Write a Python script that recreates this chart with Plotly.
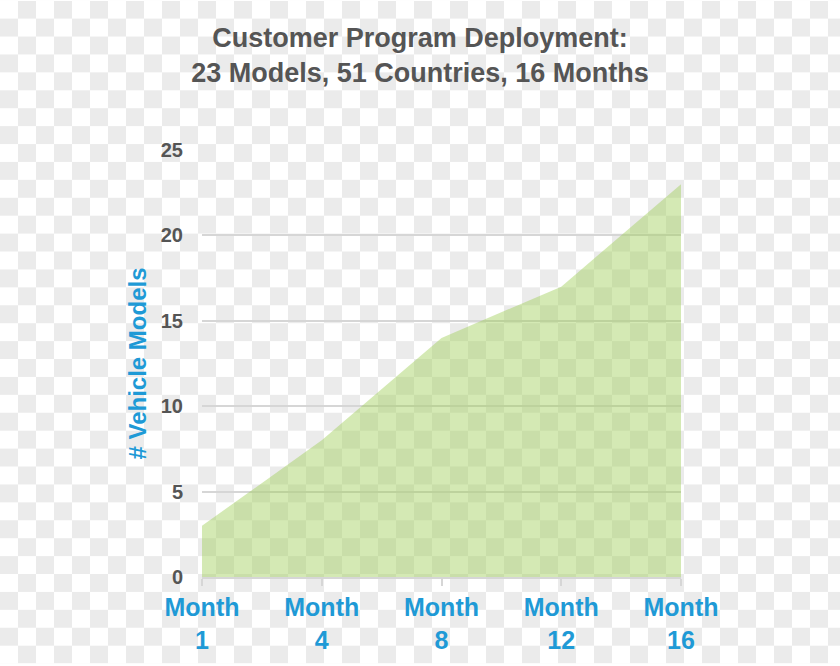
import base64
import plotly.graph_objects as go

categories = ["Month<br>1", "Month<br>4", "Month<br>8", "Month<br>12", "Month<br>16"]
models = [3, 8, 14, 17, 23]
y_ticks = [0, 5, 10, 15, 20, 25]

W, H = 840, 666
L, R, T, B = 202, 159, 150, 87
pw = W - L - R
ph = H - T - B

FONT = "Liberation Sans, Arial, sans-serif"

# transparency checkerboard background
sq = 18
svg = (
    f'<svg xmlns="http://www.w3.org/2000/svg" width="{W}" height="{H}">'
    f'<defs><pattern id="p" width="{2*sq}" height="{2*sq}" patternUnits="userSpaceOnUse">'
    f'<rect width="{2*sq}" height="{2*sq}" fill="#ffffff"/>'
    f'<rect x="{sq}" y="0" width="{sq}" height="{sq}" fill="#ebebeb"/>'
    f'<rect x="0" y="{sq}" width="{sq}" height="{sq}" fill="#ebebeb"/>'
    f'</pattern></defs><rect width="{W}" height="{H}" fill="url(#p)"/></svg>'
)
src = "data:image/svg+xml;base64," + base64.b64encode(svg.encode()).decode()

fig = go.Figure()
fig.add_trace(go.Scatter(
    x=categories, y=models, mode="lines", fill="tozeroy",
    line=dict(width=0, color="rgba(159,206,88,0.45)"),
    fillcolor="rgba(159,206,88,0.45)", hoverinfo="skip", showlegend=False,
))

fig.add_layout_image(dict(
    source=src, xref="paper", yref="paper",
    x=-L / pw, y=1 + T / ph, sizex=W / pw, sizey=H / ph,
    xanchor="left", yanchor="top", sizing="stretch", layer="below",
))

fig.update_layout(
    width=W, height=H,
    margin=dict(l=L, r=R, t=T, b=B),
    paper_bgcolor="rgba(0,0,0,0)", plot_bgcolor="rgba(0,0,0,0)",
    font=dict(family=FONT),
    title=dict(
        text="Customer Program Deployment:<br>23 Models, 51 Countries, 16 Months",
        x=0.5, xref="container", xanchor="center",
        y=1 - 47 / H, yref="container", yanchor="top",
        font=dict(size=27, color="#555555", weight="bold", family=FONT),
    ),
    xaxis=dict(
        type="category", range=[0, len(categories) - 1],
        showgrid=False, zeroline=False,
        showline=True, linecolor="#d6d6d6", linewidth=2,
        ticks="outside", ticklen=7, tickcolor="#d6d6d6", tickwidth=2,
        tickfont=dict(size=25, color="#1f9ad6", weight="bold", family=FONT),
    ),
    yaxis=dict(
        range=[0, 25], tickvals=y_ticks,
        showgrid=True, gridcolor="#d6d6d6", gridwidth=2,
        zeroline=False, showline=False,
        ticks="outside", ticklen=14, tickcolor="rgba(0,0,0,0)",
        tickfont=dict(size=20, color="#555555", weight="bold", family=FONT),
        title=dict(text="# Vehicle Models", standoff=7,
                   font=dict(size=24, color="#1f9ad6", weight="bold", family=FONT)),
    ),
)

fig.write_html("out.html", config={"displayModeBar": False},
               post_script="document.body.style.margin='0';")
